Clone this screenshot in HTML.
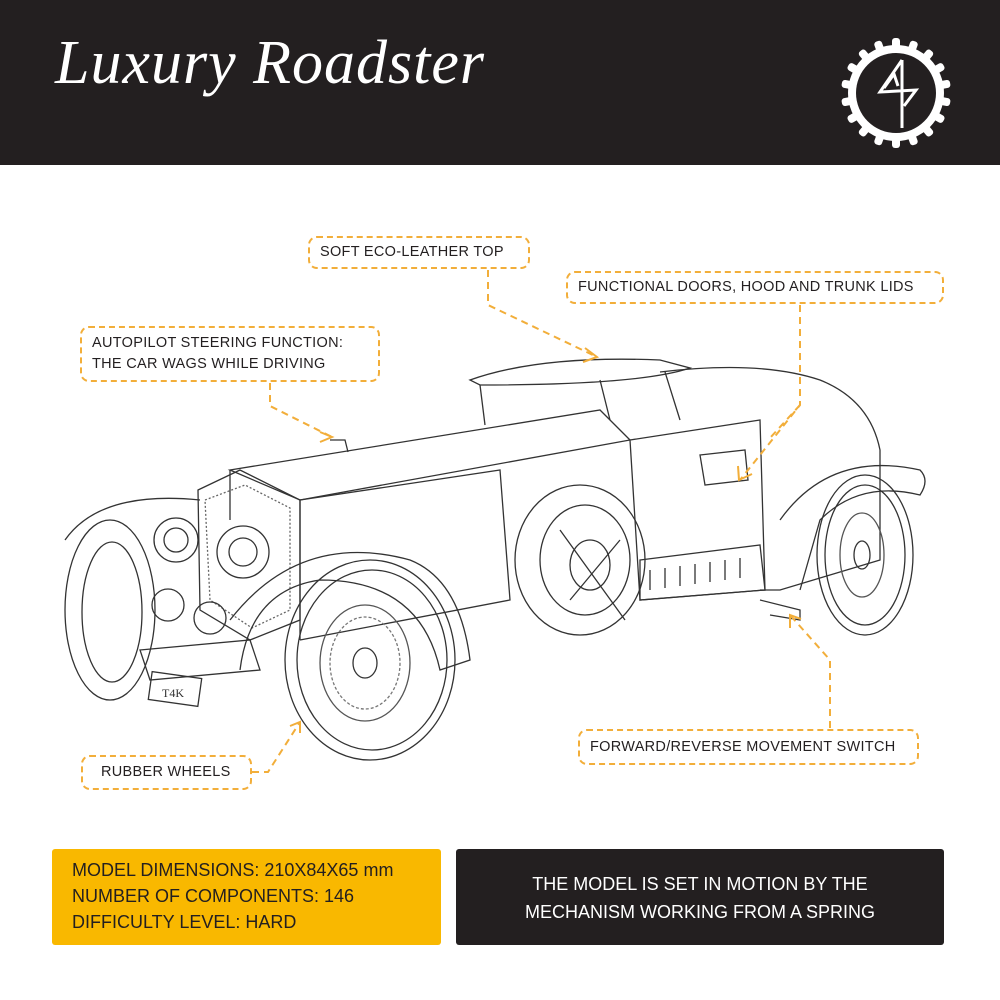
<!DOCTYPE html>
<html><head><meta charset="utf-8"><style>
body{margin:0;width:1000px;height:1000px;background:#fff;position:relative;overflow:hidden;font-family:"Liberation Sans",sans-serif}
.hdr{position:absolute;left:0;top:0;width:1000px;height:165px;background:#231f20}
.title{position:absolute;left:55px;top:28px;color:#fff;font-family:"Liberation Serif",serif;font-style:italic;font-size:62px;letter-spacing:1px}
.lbl{position:absolute;border:2px dashed #f2ae3a;border-radius:9px;color:#231f20;font-size:14.5px;line-height:21px;box-sizing:border-box;padding:0 10px;display:flex;align-items:center;letter-spacing:.3px}
.yb{position:absolute;left:52px;top:849px;width:389px;height:96px;background:#f9b800;border-radius:3px;color:#231f20;font-size:18px;line-height:26px;padding:8px 20px;box-sizing:border-box}
.db{position:absolute;left:456px;top:849px;width:488px;height:96px;background:#231f20;border-radius:3px;color:#fff;font-size:18px;line-height:28px;text-align:center;padding-top:21px;box-sizing:border-box}
</style></head><body>
<div class="hdr"></div>
<div class="title">Luxury Roadster</div>
<svg style="position:absolute;left:836px;top:38px" width="120" height="110" viewBox="0 0 120 110">
<g fill="#fff"><circle cx="60" cy="55" r="48"/>
<g id="t"><rect x="56" y="0" width="8" height="12" rx="3"/></g>
</g>
<g fill="#fff">
<g transform="rotate(20 60 55)"><rect x="56" y="0" width="8" height="12" rx="3"/></g>
<g transform="rotate(40 60 55)"><rect x="56" y="0" width="8" height="12" rx="3"/></g>
<g transform="rotate(60 60 55)"><rect x="56" y="0" width="8" height="12" rx="3"/></g>
<g transform="rotate(80 60 55)"><rect x="56" y="0" width="8" height="12" rx="3"/></g>
<g transform="rotate(100 60 55)"><rect x="56" y="0" width="8" height="12" rx="3"/></g>
<g transform="rotate(120 60 55)"><rect x="56" y="0" width="8" height="12" rx="3"/></g>
<g transform="rotate(140 60 55)"><rect x="56" y="0" width="8" height="12" rx="3"/></g>
<g transform="rotate(160 60 55)"><rect x="56" y="0" width="8" height="12" rx="3"/></g>
<g transform="rotate(180 60 55)"><rect x="56" y="0" width="8" height="12" rx="3"/></g>
<g transform="rotate(200 60 55)"><rect x="56" y="0" width="8" height="12" rx="3"/></g>
<g transform="rotate(220 60 55)"><rect x="56" y="0" width="8" height="12" rx="3"/></g>
<g transform="rotate(240 60 55)"><rect x="56" y="0" width="8" height="12" rx="3"/></g>
<g transform="rotate(260 60 55)"><rect x="56" y="0" width="8" height="12" rx="3"/></g>
<g transform="rotate(280 60 55)"><rect x="56" y="0" width="8" height="12" rx="3"/></g>
<g transform="rotate(300 60 55)"><rect x="56" y="0" width="8" height="12" rx="3"/></g>
<g transform="rotate(320 60 55)"><rect x="56" y="0" width="8" height="12" rx="3"/></g>
<g transform="rotate(340 60 55)"><rect x="56" y="0" width="8" height="12" rx="3"/></g>
</g>
<circle cx="60" cy="55" r="40" fill="#231f20"/>
<path d="M66 22 L44 54 L80 52 L68 68 M66 22 L66 90 M48 50 L58 36 L62 48" stroke="#fff" stroke-width="3" fill="none"/>
</svg>

<svg style="position:absolute;left:0;top:0" width="1000" height="1000" fill="none" stroke="#333" stroke-width="1.3">
<!-- roof -->
<path d="M470 380 Q540 355 660 360 L690 368 Q640 385 480 385 Z"/>
<path d="M480 385 L485 425 M600 380 L610 420 M665 372 L680 420"/>
<!-- rear body -->
<path d="M660 372 Q760 360 820 380 Q870 400 880 450 L880 560 L780 590 L760 590"/>
<path d="M630 440 L760 420 L765 590 L640 600 Z"/>
<path d="M700 455 L745 450 L748 480 L705 485 Z"/>
<!-- hood -->
<path d="M230 470 L600 410 L630 440 L300 500 Z"/>
<path d="M300 500 L300 640 M230 470 L230 520"/>
<path d="M300 500 L500 470 L510 600 L300 640"/>
<!-- grille -->
<path d="M198 490 L240 470 L300 500 L300 620 L250 640 L200 610 Z"/>
<path d="M205 500 L245 485 L290 508 L290 610 L252 628 L210 600 Z" stroke="#666" stroke-dasharray="2 2"/>
<circle cx="176" cy="540" r="22"/><circle cx="176" cy="540" r="12"/>
<circle cx="243" cy="552" r="26"/><circle cx="243" cy="552" r="14"/>
<circle cx="168" cy="605" r="16"/><circle cx="210" cy="618" r="16"/>
<!-- plate -->
<rect x="150" y="675" width="50" height="28" transform="rotate(8 175 689)"/>
<text x="162" y="697" fill="#333" stroke="none" font-size="12" font-family="Liberation Serif">T4K</text>
<!-- front fenders -->
<path d="M65 540 Q100 490 200 500"/>
<path d="M230 620 Q300 530 410 560 Q460 580 470 660 L440 670 Q420 580 320 580 Q250 590 240 670"/>
<!-- front left wheel -->
<ellipse cx="110" cy="610" rx="45" ry="90"/>
<ellipse cx="112" cy="612" rx="30" ry="70"/>
<!-- front right wheel -->
<ellipse cx="370" cy="660" rx="85" ry="100"/>
<ellipse cx="372" cy="660" rx="75" ry="90"/>
<ellipse cx="365" cy="663" rx="45" ry="58" stroke="#555"/>
<ellipse cx="365" cy="663" rx="35" ry="46" stroke="#777" stroke-dasharray="3 2"/>
<ellipse cx="365" cy="663" rx="12" ry="15"/>
<!-- middle spare wheel -->
<ellipse cx="580" cy="560" rx="65" ry="75"/>
<ellipse cx="585" cy="560" rx="45" ry="55"/>
<ellipse cx="590" cy="565" rx="20" ry="25"/>
<path d="M560 530 L625 620 M570 600 L620 540"/>
<!-- side vents -->
<path d="M640 560 L760 545 L765 590 L640 600 Z"/>
<path d="M650 570 l0 20 M665 568 l0 20 M680 566 l0 20 M695 564 l0 20 M710 562 l0 20 M725 560 l0 20 M740 558 l0 20"/>
<!-- rear fender -->
<path d="M780 520 Q830 450 920 470 Q930 480 920 495 Q860 480 820 520 L800 590"/>
<!-- rear wheel -->
<ellipse cx="865" cy="555" rx="48" ry="80"/>
<ellipse cx="865" cy="555" rx="40" ry="70"/>
<ellipse cx="862" cy="555" rx="22" ry="42" stroke="#555"/>
<ellipse cx="862" cy="555" rx="8" ry="14"/>
<!-- chassis -->
<path d="M140 650 L250 640 L260 670 L150 680 Z"/>
<path d="M760 600 L800 610 L800 620 L770 615"/>
<path d="M330 440 L345 440 L348 452"/>
</svg>

<!-- connectors -->
<svg style="position:absolute;left:0;top:0" width="1000" height="1000" fill="none" stroke="#f2ae3a" stroke-width="2" stroke-dasharray="7 5">
<path d="M488 270 L488 305 L595 356"/>
<path d="M585 348 L597 357 L583 362" stroke-dasharray="none"/>
<path d="M800 305 L800 405 L740 480"/>
<path d="M800 405 L770 438"/>
<path d="M738 466 L739 480 L752 474" stroke-dasharray="none"/>
<path d="M270 383 L270 406 L332 437"/>
<path d="M320 432 L332 437 L320 442" stroke-dasharray="none"/>
<path d="M252 772 L268 772 L300 722"/>
<path d="M290 726 L300 722 L300 733" stroke-dasharray="none"/>
<path d="M830 728 L830 660 L790 615"/>
<path d="M790 628 L790 615 L801 619" stroke-dasharray="none"/>
</svg>

<div class="lbl" style="left:308px;top:236px;width:222px;height:33px">SOFT ECO-LEATHER TOP</div>
<div class="lbl" style="left:566px;top:271px;width:378px;height:33px">FUNCTIONAL DOORS, HOOD AND TRUNK LIDS</div>
<div class="lbl" style="left:80px;top:326px;width:300px;height:56px">AUTOPILOT STEERING FUNCTION:<br>THE CAR WAGS WHILE DRIVING</div>
<div class="lbl" style="left:81px;top:755px;width:171px;height:35px;padding-left:18px">RUBBER WHEELS</div>
<div class="lbl" style="left:578px;top:729px;width:341px;height:36px">FORWARD/REVERSE MOVEMENT SWITCH</div>

<div class="yb">MODEL DIMENSIONS: 210X84X65 mm<br>NUMBER OF COMPONENTS: 146<br>DIFFICULTY LEVEL: HARD</div>
<div class="db">THE MODEL IS SET IN MOTION BY THE<br>MECHANISM WORKING FROM A SPRING</div>
</body></html>
